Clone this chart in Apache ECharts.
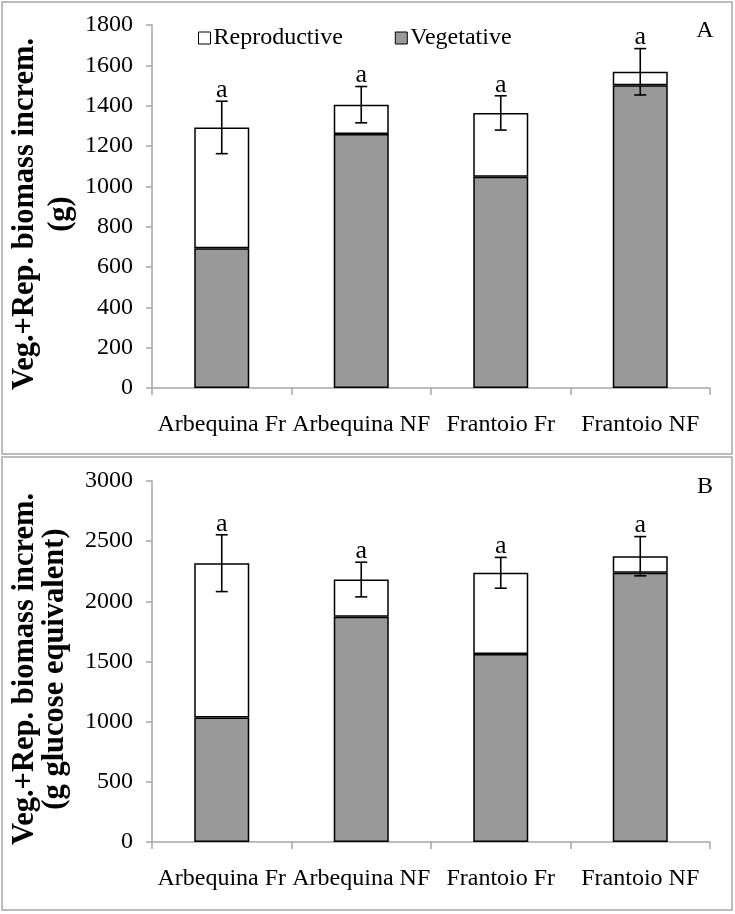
<!DOCTYPE html>
<html>
<head>
<meta charset="utf-8">
<script src="https://cdn.jsdelivr.net/npm/echarts@6/dist/echarts.min.js"></script>
<style>
html,body{margin:0;padding:0;background:#fff;}
#chart{width:735px;height:914px;}
</style>
</head>
<body>
<div id="chart"></div>
<script>
var categories = ['Arbequina Fr', 'Arbequina NF', 'Frantoio Fr', 'Frantoio NF'];
// Panel A (g)
var vegA = [693, 1259, 1048, 1501];
var repA = [599, 146, 316, 67];
var errA = [130, 90, 85, 115];
var sigA = ['a', 'a', 'a', 'a'];
var ticksA = {min: 0, max: 1800, interval: 200};
// Panel B (g glucose equivalent)
var vegB = [1034, 1872, 1562, 2237];
var repB = [1283, 309, 675, 138];
var errB = [236, 144, 128, 163];
var sigB = ['a', 'a', 'a', 'a'];
var ticksB = {min: 0, max: 3000, interval: 500};

var FONT = '"Liberation Serif", "Times New Roman", serif';

function errData(veg, rep, err, sig) {
  return veg.map(function (v, i) { return [i, v + rep[i], err[i], sig[i]]; });
}

function makeRender(sig) {
  return function (params, api) {
    var i = api.value(0), t = api.value(1), e = api.value(2);
    var top = api.coord([i, t + e]);
    var bot = api.coord([i, t - e]);
    var cw = 6;
    var st = {stroke: '#000', lineWidth: 1.6};
    return {
      type: 'group',
      children: [
        {type: 'line', shape: {x1: top[0], y1: top[1], x2: bot[0], y2: bot[1]}, style: st},
        {type: 'line', shape: {x1: top[0] - cw, y1: top[1], x2: top[0] + cw, y2: top[1]}, style: st},
        {type: 'line', shape: {x1: bot[0] - cw, y1: bot[1], x2: bot[0] + cw, y2: bot[1]}, style: st},
        {type: 'text', style: {text: sig[params.dataIndex], x: top[0], y: top[1] + 2, align: 'center', verticalAlign: 'bottom', font: '26px ' + FONT, fill: '#000'}}
      ]
    };
  };
}

function panel(idx, veg, rep, err, sig) {
  return [
    {name: 'Vegetative', type: 'bar', xAxisIndex: idx, yAxisIndex: idx, stack: 's' + idx, data: veg, barWidth: 55,
     itemStyle: {color: '#999999', borderColor: '#000', borderWidth: 1.5}, silent: true},
    {name: 'Reproductive', type: 'bar', xAxisIndex: idx, yAxisIndex: idx, stack: 's' + idx, data: rep, barWidth: 55,
     itemStyle: {color: '#ffffff', borderColor: '#000', borderWidth: 1.5}, silent: true},
    {type: 'custom', xAxisIndex: idx, yAxisIndex: idx, data: errData(veg, rep, err, sig), renderItem: makeRender(sig), z: 10, silent: true}
  ];
}

function xAxis(idx) {
  return {
    type: 'category', gridIndex: idx, data: categories,
    axisLine: {lineStyle: {color: '#a6a6a6', width: 1.5}},
    axisTick: {show: true, length: 7, lineStyle: {color: '#a6a6a6', width: 1.5}},
    axisLabel: {color: '#000', fontFamily: FONT, fontSize: 24, margin: 25, interval: 0}
  };
}
function yAxis(idx, t) {
  return {
    type: 'value', gridIndex: idx, min: t.min, max: t.max, interval: t.interval,
    axisLine: {show: true, lineStyle: {color: '#a6a6a6', width: 1.5}},
    axisTick: {show: true, length: 6, lineStyle: {color: '#a6a6a6', width: 1.5}},
    splitLine: {show: false},
    axisLabel: {color: '#000', fontFamily: FONT, fontSize: 24, margin: 19, formatter: function (v) { return String(v); }}
  };
}

var chart = echarts.init(document.getElementById('chart'), null, {renderer: 'canvas'});
chart.setOption({
  animation: false,
  backgroundColor: '#fff',
  grid: [
    {left: 152, right: 25, top: 25, height: 363},
    {left: 152, right: 25, top: 481, height: 361}
  ],
  xAxis: [xAxis(0), xAxis(1)],
  yAxis: [yAxis(0, ticksA), yAxis(1, ticksB)],
  legend: {
    data: ['Reproductive', 'Vegetative'],
    left: 198, top: 26, padding: 0, itemWidth: 12, itemHeight: 12, itemGap: 52, icon: 'rect',
    itemStyle: {borderColor: '#000', borderWidth: 1},
    textStyle: {fontFamily: FONT, fontSize: 24, color: '#000', padding: [0, 0, 0, -2]},
    selectedMode: false
  },
  graphic: [
    {type: 'rect', shape: {x: 2, y: 2, width: 730, height: 452}, style: {fill: 'none', stroke: '#a6a6a6', lineWidth: 1.5}, silent: true},
    {type: 'rect', shape: {x: 2, y: 457, width: 730, height: 453}, style: {fill: 'none', stroke: '#a6a6a6', lineWidth: 1.5}, silent: true},
    {type: 'text', x: 705, y: 31, style: {text: 'A', font: '24px ' + FONT, fill: '#000', align: 'center', verticalAlign: 'middle'}},
    {type: 'text', x: 705, y: 487, style: {text: 'B', font: '24px ' + FONT, fill: '#000', align: 'center', verticalAlign: 'middle'}},
    {type: 'text', x: 43, y: 214, rotation: Math.PI / 2,
     style: {text: 'Veg.+Rep. biomass increm.\n(g)', font: 'bold 30.5px ' + FONT, lineHeight: 36, fill: '#000', align: 'center', verticalAlign: 'middle'}},
    {type: 'text', x: 40, y: 669, rotation: Math.PI / 2,
     style: {text: 'Veg.+Rep. biomass increm.\n(g glucose equivalent)', font: 'bold 30.5px ' + FONT, lineHeight: 30, fill: '#000', align: 'center', verticalAlign: 'middle'}}
  ],
  series: panel(0, vegA, repA, errA, sigA).concat(panel(1, vegB, repB, errB, sigB))
});
</script>
</body>
</html>
